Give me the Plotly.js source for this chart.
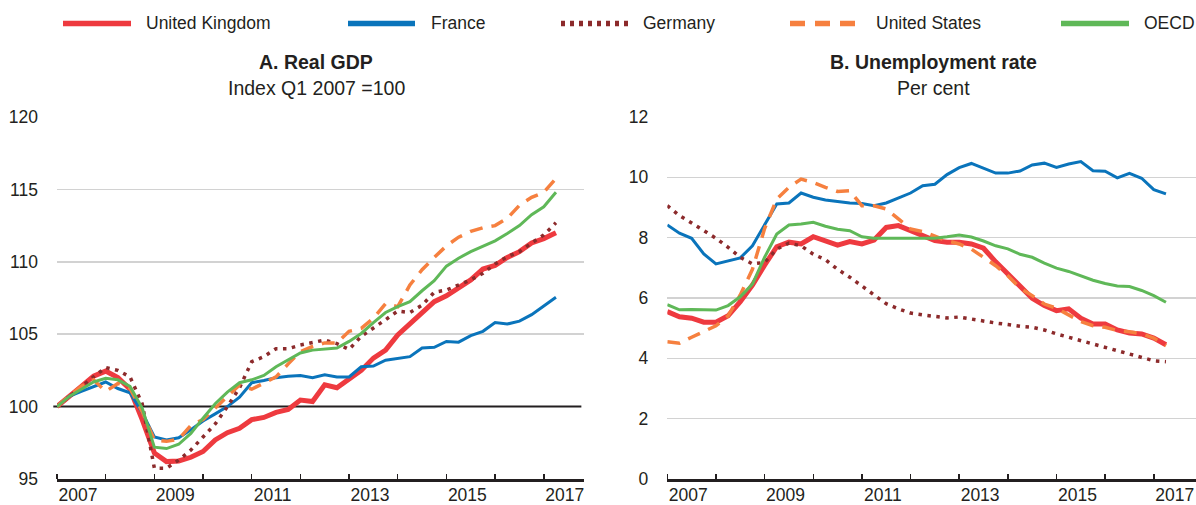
<!DOCTYPE html>
<html>
<head>
<meta charset="utf-8">
<script src="https://cdn.plot.ly/plotly-3.0.1.min.js"></script>
<style>
  html, body { margin: 0; padding: 0; background: #ffffff; }
  #chart { width: 1196px; height: 505px; }
</style>
</head>
<body>
<div id="chart"></div>
<script>
// ---------- DATA (quarterly, Q1 2007 to Q2 2017) ----------
const seriesNames = ["United Kingdom", "France", "Germany", "United States", "OECD"];
const seriesColors = ["#ee3a3f", "#0a74bb", "#8c2a2b", "#f6803f", "#5fb858"];

const startYear = 2007;
const nQuarters = 42;
const quarters = [];
for (let i = 0; i < nQuarters; i++) quarters.push(startYear + Math.floor(i / 4) + (i % 4) * 0.25);

// Panel A: Real GDP, index Q1 2007 = 100
const gdpUK = [100, 100.75, 101.4, 102.1, 102.45, 102.0, 101.2, 99.1, 96.8, 96.2, 96.25, 96.5, 96.9, 97.7, 98.2, 98.5, 99.1, 99.25, 99.6, 99.8, 100.45, 100.35, 101.5, 101.3, 101.9, 102.5, 103.35, 103.9, 104.95, 105.7, 106.4, 107.25, 107.65, 108.25, 108.75, 109.5, 109.75, 110.3, 110.7, 111.3, 111.6, 112.0];
const gdpFR = [100, 100.7, 101.05, 101.4, 101.7, 101.25, 100.95, 99.6, 97.9, 97.7, 97.85, 98.4, 99.0, 99.5, 100.0, 100.65, 101.65, 101.8, 102.0, 102.1, 102.15, 102.0, 102.2, 102.05, 102.05, 102.75, 102.8, 103.2, 103.3, 103.45, 104.05, 104.1, 104.5, 104.45, 104.9, 105.2, 105.8, 105.7, 105.9, 106.35, 106.95, 107.55];
const gdpDE = [100, 100.7, 101.4, 102.05, 102.7, 102.5, 102.05, 100.2, 95.75, 95.75, 96.3, 97.0, 97.9, 98.8, 100.0, 101.3, 103.1, 103.45, 104.0, 104.0, 104.25, 104.4, 104.6, 104.35, 103.95, 104.85, 105.4, 106.0, 106.6, 106.5, 107.0, 107.9, 108.05, 108.4, 108.75, 109.2, 109.85, 110.35, 110.7, 111.3, 111.85, 112.7];
const gdpUS = [100, 100.75, 101.4, 101.85, 101.05, 101.6, 101.25, 99.65, 97.7, 97.6, 97.75, 98.7, 99.1, 99.9, 100.75, 101.5, 101.2, 101.6, 102.05, 102.95, 103.8, 104.15, 104.4, 104.4, 105.2, 105.4, 106.1, 107.1, 106.9, 108.4, 109.45, 110.3, 111.1, 111.7, 112.1, 112.35, 112.5, 113.0, 113.9, 114.45, 114.8, 115.75];
const gdpOECD = [100, 100.7, 101.2, 101.7, 101.95, 101.85, 101.4, 99.9, 97.2, 97.1, 97.4, 98.15, 99.2, 100.2, 101.0, 101.65, 101.85, 102.15, 102.75, 103.2, 103.7, 103.9, 104.0, 104.05, 104.5, 105.05, 105.8, 106.5, 106.9, 107.25, 108.0, 108.7, 109.7, 110.25, 110.7, 111.05, 111.45, 111.95, 112.5, 113.25, 113.8, 114.8];

// Panel B: Unemployment rate, per cent
const unUK = [5.55, 5.38, 5.33, 5.2, 5.2, 5.41, 5.88, 6.43, 7.09, 7.7, 7.85, 7.79, 8.03, 7.88, 7.75, 7.87, 7.79, 7.92, 8.34, 8.4, 8.23, 8.04, 7.9, 7.85, 7.85, 7.79, 7.65, 7.2, 6.8, 6.38, 5.99, 5.75, 5.58, 5.64, 5.33, 5.14, 5.14, 4.94, 4.84, 4.81, 4.67, 4.45];
const unFR = [8.42, 8.15, 7.98, 7.46, 7.13, 7.22, 7.33, 7.73, 8.45, 9.12, 9.15, 9.48, 9.34, 9.25, 9.2, 9.15, 9.13, 9.06, 9.15, 9.31, 9.48, 9.72, 9.77, 10.09, 10.32, 10.46, 10.31, 10.14, 10.14, 10.21, 10.41, 10.47, 10.33, 10.44, 10.52, 10.22, 10.2, 9.98, 10.13, 9.97, 9.59, 9.45];
const unDE = [9.06, 8.73, 8.49, 8.23, 7.98, 7.68, 7.35, 7.13, 7.18, 7.62, 7.82, 7.73, 7.45, 7.27, 6.95, 6.69, 6.39, 6.08, 5.81, 5.64, 5.5, 5.44, 5.38, 5.34, 5.37, 5.3, 5.23, 5.17, 5.12, 5.06, 5.03, 4.94, 4.81, 4.7, 4.59, 4.48, 4.36, 4.25, 4.14, 4.03, 3.92, 3.89];
const unUS = [4.55, 4.5, 4.7, 4.88, 5.08, 5.41, 6.1, 6.95, 8.3, 9.28, 9.67, 9.94, 9.83, 9.67, 9.53, 9.56, 9.06, 9.06, 8.95, 8.62, 8.29, 8.2, 8.04, 7.9, 7.79, 7.62, 7.35, 7.07, 6.74, 6.33, 6.08, 5.8, 5.66, 5.45, 5.22, 5.08, 5.03, 4.92, 4.88, 4.81, 4.67, 4.42];
const unOECD = [5.78, 5.61, 5.62, 5.61, 5.6, 5.75, 6.04, 6.46, 7.35, 8.12, 8.42, 8.45, 8.51, 8.38, 8.28, 8.23, 8.03, 7.98, 7.98, 7.98, 7.96, 7.98, 7.98, 8.03, 8.09, 8.02, 7.89, 7.73, 7.63, 7.45, 7.35, 7.16, 6.99, 6.88, 6.73, 6.59, 6.48, 6.4, 6.38, 6.25, 6.08, 5.86];

// Axis tick labels
const yearTicks = [2007, 2008, 2009, 2010, 2011, 2012, 2013, 2014, 2015, 2016, 2017];
const yearLabels = ["2007", "2009", "2011", "2013", "2015", "2017"];
const gdpTicks = [95, 100, 105, 110, 115, 120];
const gdpGrid = [105, 110, 115, 120];
const gdpBase = 100;
const unTicks = [0, 2, 4, 6, 8, 10, 12];

const panelTitles = ["A. Real GDP", "B. Unemployment rate"];
const panelSubtitles = ["Index Q1 2007 =100", "Per cent"];

// ---------- STYLE ----------
const lineStyles = [
  { width: 5, dash: "solid" },
  { width: 3, dash: "solid" },
  { width: 3.5, dash: "3.5px,5.5px" },
  { width: 3.5, dash: "13px,9px" },
  { width: 3, dash: "solid" }
];
const textColor = "#231f20";
const font = "Liberation Sans, Arial, Helvetica, sans-serif";

const gdpData = [gdpUK, gdpFR, gdpDE, gdpUS, gdpOECD];
const unData = [unUK, unFR, unDE, unUS, unOECD];

const traces = [];
gdpData.forEach((ys, k) => {
  traces.push({
    x: quarters, y: ys, type: "scatter", mode: "lines", name: seriesNames[k],
    xaxis: "x", yaxis: "y", showlegend: false,
    line: { color: seriesColors[k], width: lineStyles[k].width, dash: lineStyles[k].dash }
  });
});
unData.forEach((ys, k) => {
  traces.push({
    x: quarters, y: ys, type: "scatter", mode: "lines", name: seriesNames[k],
    xaxis: "x2", yaxis: "y2", showlegend: false,
    line: { color: seriesColors[k], width: lineStyles[k].width, dash: lineStyles[k].dash }
  });
});

// pixel -> paper helpers (plot area: x 57..1196, y 117..479)
const ML = 57, MT = 117, PW = 1196 - 57, PH = 362;
const px = (p) => (p - ML) / PW;
const py = (p) => (MT + PH - p) / PH;

// year labels sit just left of mid-year, as in the original
const labelPos = yearLabels.map(s => Number(s) + 0.43);
const tickFont = { family: font, size: 17.5, color: textColor };

function xAxis(domain, rangeEnd, anchor) {
  return {
    domain: domain, range: [2007, rangeEnd], anchor: anchor,
    tickmode: "array", tickvals: labelPos, ticktext: yearLabels,
    ticks: "", showline: true, linecolor: textColor, linewidth: 2.5,
    showgrid: false, zeroline: false,
    tickfont: tickFont, ticklabelstandoff: -2, ticklabeloverflow: "allow",
    minor: { tickmode: "array", tickvals: yearTicks, ticks: "inside", ticklen: 5, tickwidth: 1.5, tickcolor: textColor, showgrid: false },
    fixedrange: true
  };
}

const layout = {
  width: 1196, height: 505,
  margin: { l: ML, r: 0, t: MT, b: 505 - MT - PH, pad: 0 },
  paper_bgcolor: "#ffffff", plot_bgcolor: "rgba(0,0,0,0)",
  showlegend: false,
  xaxis: xAxis([0, px(584)], 2007 + (584 - 57.3) / 48.65, "y"),
  xaxis2: xAxis([px(667.3), 1], 2007 + (1196 - 667.3) / 48.65, "y2"),
  yaxis: {
    domain: [0, 1], anchor: "x", range: [95, 120],
    tickmode: "array", tickvals: gdpTicks, ticktext: gdpTicks.map(String),
    showgrid: false, zeroline: false, showline: false, ticks: "",
    minor: { tickmode: "array", tickvals: gdpGrid, showgrid: true, gridcolor: "#d2d2d2", gridwidth: 1.6, ticks: "" },
    tickfont: tickFont, ticklabelstandoff: 18, fixedrange: true
  },
  yaxis2: {
    domain: [0, 1], anchor: "x2", range: [0, 12],
    tickmode: "array", tickvals: unTicks, ticktext: unTicks.map(String),
    showgrid: true, gridcolor: "#d2d2d2", gridwidth: 1.6, zeroline: false, showline: false, ticks: "",
    tickfont: tickFont, ticklabelstandoff: 18, fixedrange: true
  },
  shapes: [],
  annotations: []
};

// black reference line at index = 100 (below traces)
layout.shapes.push({
  type: "line", xref: "x domain", yref: "y", x0: -0.007, x1: 0.995, y0: gdpBase, y1: gdpBase,
  line: { color: textColor, width: 2 }, layer: "below"
});

// legend drawn as line samples + text
const legendItems = [
  { x0: 63, x1: 131, tx: 144 },
  { x0: 348, x1: 415, tx: 429 },
  { x0: 561, x1: 628, tx: 641 },
  { x0: 790, x1: 858, tx: 874 },
  { x0: 1061, x1: 1129, tx: 1142 }
];
const legendDash = ["solid", "solid", "4px,5px", "15px,10px", "solid"];
const legendY = 23.5;
legendItems.forEach((it, k) => {
  layout.shapes.push({
    type: "line", xref: "paper", yref: "paper", layer: "above",
    x0: px(it.x0), x1: px(it.x1), y0: py(legendY), y1: py(legendY),
    line: { color: seriesColors[k], width: 5.5, dash: legendDash[k] }
  });
  layout.annotations.push({
    xref: "paper", yref: "paper", x: px(it.tx), y: py(legendY),
    xanchor: "left", yanchor: "middle", showarrow: false, text: seriesNames[k],
    font: { family: font, size: 17.5, color: textColor }
  });
});

// panel titles
const titleCenters = [316, 933];
titleCenters.forEach((cx, k) => {
  layout.annotations.push({
    xref: "paper", yref: "paper", x: px(cx), y: py(62), xanchor: "center", yanchor: "middle",
    showarrow: false, text: "<b>" + panelTitles[k] + "</b>",
    font: { family: font, size: 19.5, color: textColor }
  });
  layout.annotations.push({
    xref: "paper", yref: "paper", x: px(cx), y: py(88.5), xanchor: "center", yanchor: "middle",
    showarrow: false, text: panelSubtitles[k],
    font: { family: font, size: 19.5, color: textColor }
  });
});

Plotly.newPlot("chart", traces, layout, { staticPlot: true, displayModeBar: false });
</script>
</body>
</html>
